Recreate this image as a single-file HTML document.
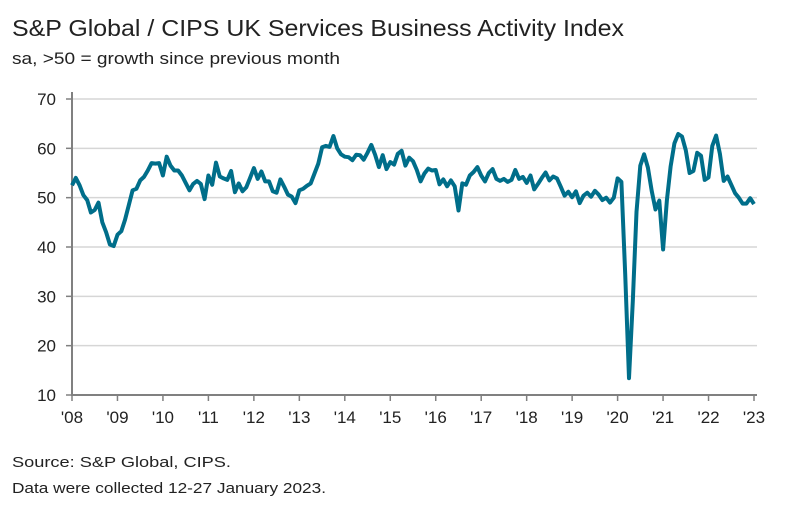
<!DOCTYPE html>
<html><head><meta charset="utf-8"><style>
body{margin:0;background:#fff;font-family:"Liberation Sans",sans-serif;}
</style></head><body>
<svg width="787" height="511" xmlns="http://www.w3.org/2000/svg">
<text x="12" y="36" font-size="23" fill="#222" textLength="612" lengthAdjust="spacingAndGlyphs">S&amp;P Global / CIPS UK Services Business Activity Index</text>
<text x="12" y="64" font-size="17" fill="#222" textLength="328" lengthAdjust="spacingAndGlyphs">sa, &gt;50 = growth since previous month</text>
<g id="grid"></g><g id="yt"></g><g id="xt"></g>
<line x1="72" y1="92" x2="72" y2="396" stroke="#808080" stroke-width="2"/>
<line x1="72" y1="395" x2="757" y2="395" stroke="#808080" stroke-width="2"/>
<path id="line" fill="none" stroke="#006e8a" stroke-width="4" stroke-linejoin="round"/>
<text x="12" y="467" font-size="15" fill="#222" textLength="219" lengthAdjust="spacingAndGlyphs">Source: S&amp;P Global, CIPS.</text>
<text x="12" y="493" font-size="15" fill="#222" textLength="314" lengthAdjust="spacingAndGlyphs">Data were collected 12-27 January 2023.</text>
</svg>
<script>
const yTicks=[10,20,30,40,50,60,70];
const xLabels=["'08","'09","'10","'11","'12","'13","'14","'15","'16","'17","'18","'19","'20","'21","'22","'23"];
const values=[52.5,54.0,52.5,50.5,49.5,47.0,47.5,49.0,45.0,43.0,40.5,40.2,
42.5,43.2,45.5,48.5,51.5,51.8,53.5,54.2,55.5,57.0,56.9,57.0,
54.5,58.3,56.5,55.5,55.5,54.5,53.0,51.5,52.8,53.4,52.8,49.7,
54.5,52.6,57.1,54.3,53.9,53.6,55.4,51.1,52.9,51.3,52.1,54.0,
56.0,53.8,55.3,53.3,53.3,51.3,51.0,53.7,52.2,50.6,50.2,48.9,
51.5,51.8,52.4,52.9,54.9,56.9,60.2,60.5,60.3,62.5,60.0,58.8,
58.3,58.2,57.6,58.7,58.6,57.7,59.1,60.7,58.7,56.2,58.6,55.8,
57.2,56.7,58.9,59.5,56.5,58.1,57.4,55.6,53.3,54.9,55.9,55.5,
55.6,52.7,53.7,52.3,53.5,52.3,47.4,52.9,52.6,54.5,55.2,56.2,
54.5,53.3,55.0,55.8,53.8,53.4,53.8,53.2,53.6,55.6,53.8,54.2,
53.0,54.5,51.7,52.8,54.0,55.1,53.5,54.3,53.9,52.2,50.4,51.2,
50.1,51.3,48.9,50.4,51.0,50.2,51.4,50.6,49.5,50.0,49.0,50.0,
53.9,53.2,34.5,13.4,29.0,47.1,56.5,58.8,56.1,51.4,47.6,49.4,
39.5,49.5,56.3,61.0,62.9,62.4,59.6,55.0,55.4,59.1,58.5,53.6,
54.1,60.5,62.6,58.9,53.4,54.3,52.6,50.9,50.0,48.8,48.8,49.9,
48.7];
const NS="http://www.w3.org/2000/svg";
const y=v=>395-(v-10)*(296/60);
const x=i=>72+i*(682/180);
const grid=document.getElementById('grid'),yt=document.getElementById('yt'),xt=document.getElementById('xt');
yTicks.forEach(t=>{
 if(t>10){const l=document.createElementNS(NS,'line');
 l.setAttribute('x1',72);l.setAttribute('x2',757);l.setAttribute('y1',y(t));l.setAttribute('y2',y(t));
 l.setAttribute('stroke','#d6d6d6');l.setAttribute('stroke-width','1.5');
 
 
 grid.appendChild(l);}
 const tk=document.createElementNS(NS,'line');
 tk.setAttribute('x1',66);tk.setAttribute('x2',72);tk.setAttribute('y1',y(t));tk.setAttribute('y2',y(t));
 tk.setAttribute('stroke','#808080');tk.setAttribute('stroke-width','1.5');
 
 
 yt.appendChild(tk);
 const s=document.createElementNS(NS,'text');
 s.setAttribute('x',56);s.setAttribute('y',y(t)+6);s.setAttribute('text-anchor','end');
 s.setAttribute('font-size','17');s.setAttribute('fill','#222');s.textContent=t;
 
 
 yt.appendChild(s);
});
xLabels.forEach((lab,k)=>{
 const xx=x(k*12);
 const tk=document.createElementNS(NS,'line');
 tk.setAttribute('x1',xx);tk.setAttribute('x2',xx);tk.setAttribute('y1',395);tk.setAttribute('y2',401);
 tk.setAttribute('stroke','#808080');tk.setAttribute('stroke-width','1.5');
 
 
 xt.appendChild(tk);
 const s=document.createElementNS(NS,'text');
 s.setAttribute('x',xx);s.setAttribute('y',423);s.setAttribute('text-anchor','middle');
 s.setAttribute('font-size','17');s.setAttribute('fill','#222');s.textContent=lab;
 
 
 xt.appendChild(s);
});
document.getElementById('line').setAttribute('d',values.map((v,i)=>(i?'L':'M')+x(i).toFixed(1)+','+y(v).toFixed(1)).join(''));
</script>
</body></html>
